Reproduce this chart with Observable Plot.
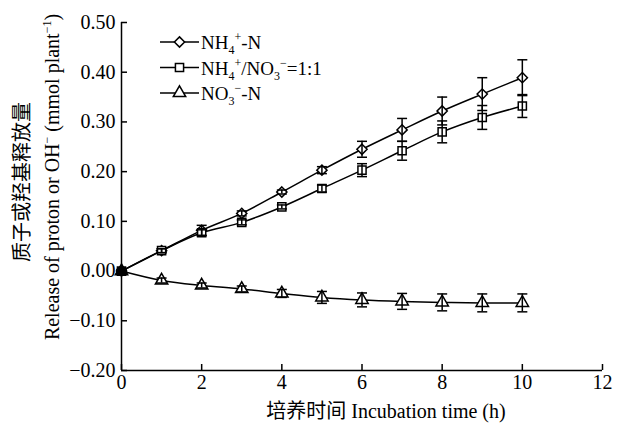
<!DOCTYPE html>
<html>
<head>
<meta charset="utf-8">
<script src="https://cdn.jsdelivr.net/npm/d3@7"></script>
<script src="https://cdn.jsdelivr.net/npm/@observablehq/plot@0.6"></script>
<style>
  html, body { margin: 0; padding: 0; background: #fff; }
  #chart svg { display: block; }
  #chart svg text { font-family: "Liberation Serif", "Noto Sans CJK SC", serif; }
</style>
</head>
<body>
<div id="chart"></div>
<script>
// ---- data ----
const times = [0, 1, 2, 3, 4, 5, 6, 7, 8, 9, 10];
const nh4 = [0, 0.041, 0.082, 0.116, 0.159, 0.203, 0.245, 0.284, 0.322, 0.356, 0.389];
const nh4Err = [0.003, 0.004, 0.010, 0.005, 0.004, 0.007, 0.016, 0.023, 0.028, 0.033, 0.036];
const mix = [0, 0.041, 0.077, 0.098, 0.129, 0.166, 0.203, 0.242, 0.280, 0.309, 0.332];
const mixErr = [0.003, 0.004, 0.006, 0.005, 0.004, 0.007, 0.013, 0.019, 0.022, 0.024, 0.023];
const no3 = [0, -0.019, -0.029, -0.036, -0.045, -0.053, -0.058, -0.061, -0.063, -0.064, -0.064];
const no3Err = [0.003, 0.005, 0.005, 0.006, 0.008, 0.012, 0.014, 0.016, 0.017, 0.018, 0.018];
const seriesNames = ["NH4-N", "Mix", "NO3-N"];
const seriesSymbols = ["diamond2", "square", "triangle"];
const xTicks = [0, 2, 4, 6, 8, 10, 12];
const yTicks = [-0.2, -0.1, 0, 0.1, 0.2, 0.3, 0.4, 0.5];

const valuesBySeries = [nh4, mix, no3];
const errBySeries = [nh4Err, mixErr, no3Err];
const rows = [];
seriesNames.forEach((s, i) => {
  times.forEach((t, j) => {
    rows.push({series: s, sym: seriesSymbols[i], t, v: valuesBySeries[i][j], e: errBySeries[i][j]});
  });
});

const FONT = "Liberation Serif, Noto Sans CJK SC, serif";

const capSymbol = {
  draw(context, size) {
    const r = 5;
    context.moveTo(-r, 0);
    context.lineTo(r, 0);
  }
};

const W = 635, H = 425;
const plot = Plot.plot({
  width: W,
  height: H,
  marginLeft: 121,
  marginRight: 33,
  marginTop: 22,
  marginBottom: 55,
  style: {fontFamily: FONT, fontSize: "20px", color: "#000", background: "#fff"},
  x: {domain: [0, 12], ticks: xTicks},
  y: {domain: [-0.2, 0.5], ticks: yTicks},
  marks: [
    Plot.ruleX([0], {stroke: "#000", strokeWidth: 1.5}),
    Plot.ruleY([-0.2], {stroke: "#000", strokeWidth: 1.5}),
    Plot.axisX({ticks: xTicks, tickSize: -6, tickPadding: 10, label: null, fontSize: 20, tickFormat: d3.format("d"), strokeWidth: 1.5}),
    Plot.axisY({ticks: yTicks, tickSize: -6, tickPadding: 12, label: null, fontSize: 20, tickFormat: d3.format(".2f"), strokeWidth: 1.5}),
    Plot.line(rows, {x: "t", y: "v", z: "series", stroke: "#000", strokeWidth: 1.5, curve: "catmull-rom"}),
    Plot.dot(rows, {x: "t", y: "v", symbol: "sym", r: 4.6, stroke: "#000", strokeWidth: 1.5, fill: d => d.t === 0 ? "#000" : "#fff"}),
    Plot.ruleX(rows, {x: "t", y1: d => d.v - d.e, y2: d => d.v + d.e, stroke: "#000", strokeWidth: 1.5}),
    Plot.dot(rows, {x: "t", y: d => d.v + d.e, symbol: capSymbol, stroke: "#000", strokeWidth: 1.5, r: 5}),
    Plot.dot(rows, {x: "t", y: d => d.v - d.e, symbol: capSymbol, stroke: "#000", strokeWidth: 1.5, r: 5})
  ]
});
document.getElementById("chart").appendChild(plot);

// ---- annotations (legend & axis titles) ----
const svg = d3.select(plot);
const g = svg.append("g").attr("font-family", FONT).attr("fill", "#000").attr("text-anchor", "start");

// legend
const legendItems = [
  {sym: d3.symbolDiamond2, parts: [["NH", 0], ["4", 1], ["+", -1], ["-N", 0]]},
  {sym: d3.symbolSquare, parts: [["NH", 0], ["4", 1], ["+", -1], ["/NO", 0], ["3", 1], ["\u2212", -1], ["=1:1", 0]]},
  {sym: d3.symbolTriangle, parts: [["NO", 0], ["3", 1], ["\u2212", -1], ["-N", 0]]}
];
const lx0 = 160, lx1 = 199, ly0 = 42, lstep = 25.5;
legendItems.forEach((it, i) => {
  const y = ly0 + i * lstep;
  g.append("line").attr("x1", lx0).attr("x2", lx1).attr("y1", y).attr("y2", y)
    .attr("stroke", "#000").attr("stroke-width", 1.5);
  g.append("path").attr("d", d3.symbol(it.sym, 4.6 * 4.6 * Math.PI)())
    .attr("transform", `translate(${(lx0 + lx1) / 2},${y})`)
    .attr("fill", "#fff").attr("stroke", "#000").attr("stroke-width", 1.5);
  const t = g.append("text").attr("x", 201).attr("y", y + 7).attr("font-size", 19).attr("text-anchor", "start");
  let cur = 0;
  it.parts.forEach(([s, lvl]) => {
    const target = lvl === 1 ? 5 : lvl === -1 ? -8 : 0;
    const sp = t.append("tspan").text(s).attr("dy", target - cur);
    if (lvl !== 0) sp.attr("font-size", 12);
    cur = target;
  });
});

// y-axis title (two lines, rotated)
g.append("text")
  .attr("transform", "translate(29,182) rotate(-90)")
  .attr("text-anchor", "middle")
  .attr("font-size", 20)
  .text("质子或羟基释放量");
const yl = g.append("text")
  .attr("transform", "translate(59,177) rotate(-90)")
  .attr("text-anchor", "middle")
  .attr("font-size", 20);
yl.append("tspan").text("Release of proton or OH");
yl.append("tspan").text("\u2212").attr("font-size", 12).attr("dy", -8);
yl.append("tspan").text(" (mmol plant").attr("dy", 8);
yl.append("tspan").text("\u22121").attr("font-size", 12).attr("dy", -8);
yl.append("tspan").text(")").attr("dy", 8);

// x-axis title
const xl = g.append("text")
  .attr("x", 386).attr("y", 418)
  .attr("text-anchor", "middle")
  .attr("font-size", 20);
xl.append("tspan").text("培养时间");
xl.append("tspan").text(" Incubation time (h)");
</script>
</body>
</html>
